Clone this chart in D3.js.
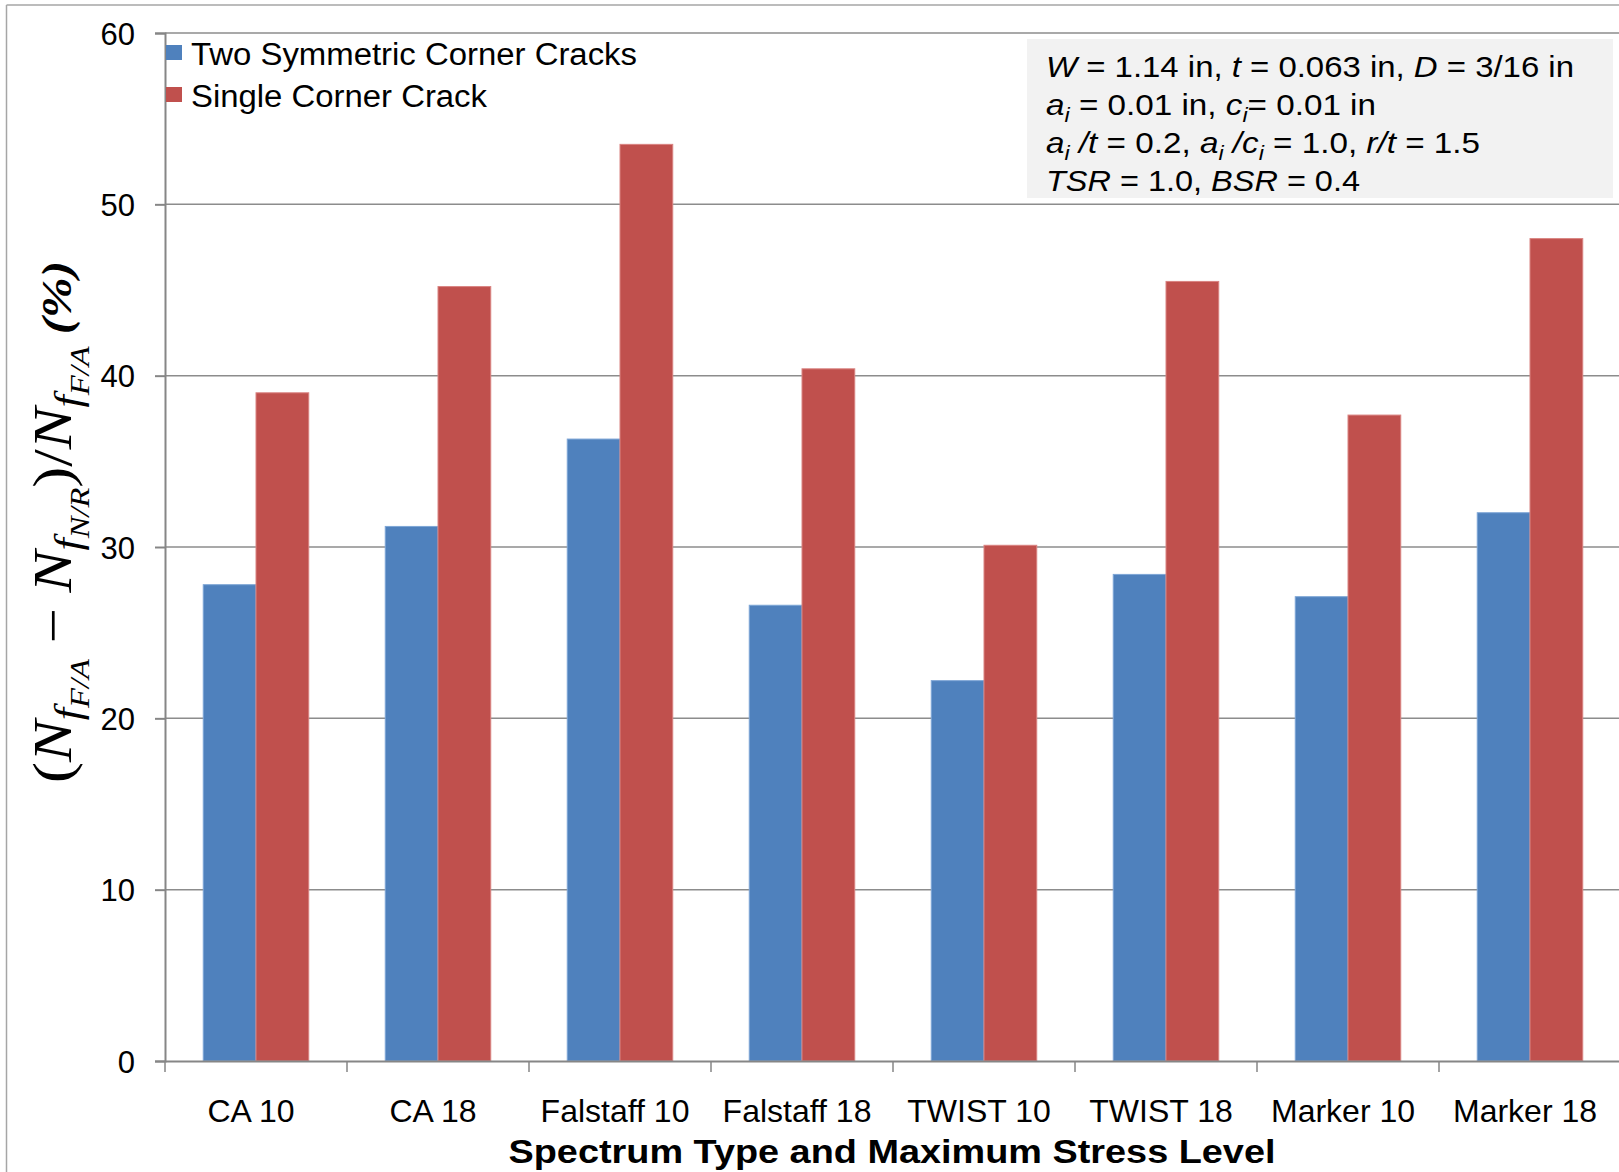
<!DOCTYPE html>
<html>
<head>
<meta charset="utf-8">
<script src="https://cdn.jsdelivr.net/npm/d3@7"></script>
<style>
  html, body { margin: 0; padding: 0; background: #fff; }
  svg { display: block; font-family: "Liberation Sans", Arial, sans-serif; }
</style>
</head>
<body>
<div id="chart"></div>
<script>
const categories = ["CA 10", "CA 18", "Falstaff 10", "Falstaff 18", "TWIST 10", "TWIST 18", "Marker 10", "Marker 18"];
const seriesNames = ["Two Symmetric Corner Cracks", "Single Corner Crack"];
const twoCornerCracks = [27.8, 31.2, 36.3, 26.6, 22.2, 28.4, 27.1, 32.0];
const singleCornerCrack = [39.0, 45.2, 53.5, 40.4, 30.1, 45.5, 37.7, 48.0];
const yTicks = [0, 10, 20, 30, 40, 50, 60];
const xTitle = "Spectrum Type and Maximum Stress Level";

// annotation box lines: [text, italic, subscript]
const noteLines = [
  [["W", 1], [" = 1.14 in, "], ["t", 1], [" = 0.063 in, "], ["D", 1], [" = 3/16 in"]],
  [["a", 1], ["i", 1, 1], [" = 0.01 in, "], ["c", 1], ["i", 1, 1], ["= 0.01 in"]],
  [["a", 1], ["i", 1, 1], [" /t", 1], [" = 0.2, "], ["a", 1], ["i", 1, 1], [" /c", 1], ["i", 1, 1], [" = 1.0, "], ["r/t", 1], [" = 1.5"]],
  [["TSR", 1], [" = 1.0, "], ["BSR", 1], [" = 0.4"]],
];

const colors = ["#4F81BD", "#C0504D"];
const strokes = ["#7ea6d6", "#d98381"];

const width = 1619, height = 1172;
const margin = { top: 33, left: 165, bottom: 111 };
const plotRight = 1621;

const svg = d3.select("#chart").append("svg")
  .attr("width", width)
  .attr("height", height)
  .attr("viewBox", [0, 0, width, height]);

const x = d3.scaleBand()
  .domain(categories)
  .range([margin.left, plotRight])
  .padding(0);
const xInner = d3.scaleBand()
  .domain(seriesNames)
  .range([0, x.bandwidth()])
  .paddingInner(0)
  .paddingOuter(0.725);
const y = d3.scaleLinear()
  .domain([0, 60])
  .range([height - margin.bottom, margin.top]);

// outer chart border (top / left)
svg.append("line").attr("x1", 6.5).attr("x2", width).attr("y1", 5).attr("y2", 5)
  .attr("stroke", "#a6a6a6").attr("stroke-width", 1.5);
svg.append("line").attr("x1", 6.5).attr("x2", 6.5).attr("y1", 5).attr("y2", height)
  .attr("stroke", "#a6a6a6").attr("stroke-width", 1.5);

// gridlines
svg.append("g")
  .selectAll("line")
  .data(yTicks.filter((d) => d > 0))
  .join("line")
  .attr("x1", margin.left)
  .attr("x2", width)
  .attr("y1", (d) => y(d))
  .attr("y2", (d) => y(d))
  .attr("stroke", "#8c8c8c")
  .attr("stroke-width", 1.5);

// y axis
svg.append("g")
  .attr("transform", `translate(${margin.left},0)`)
  .call(d3.axisLeft(y).tickValues(yTicks).tickSize(10).tickPadding(20))
  .call((g) => g.select(".domain").attr("stroke", "#868686").attr("stroke-width", 2))
  .call((g) => g.selectAll(".tick line").attr("stroke", "#868686").attr("stroke-width", 2))
  .call((g) => g.selectAll(".tick text")
    .attr("font-size", 31)
    .attr("font-family", "Liberation Sans, Arial, sans-serif")
    .attr("fill", "#000")
    .attr("dy", "0.36em"));

// bars
const cell = svg.append("g")
  .selectAll("g")
  .data(categories.map((c, i) => ({ c, values: [twoCornerCracks[i], singleCornerCrack[i]] })))
  .join("g")
  .attr("transform", (d) => `translate(${x(d.c)},0)`);
cell.selectAll("rect")
  .data((d) => d.values.map((v, j) => ({ s: seriesNames[j], v, j })))
  .join("rect")
  .attr("x", (d) => xInner(d.s))
  .attr("width", xInner.bandwidth())
  .attr("y", (d) => y(d.v))
  .attr("height", (d) => y(0) - y(d.v))
  .attr("fill", (d) => colors[d.j])
  .attr("stroke", (d) => strokes[d.j])
  .attr("stroke-width", 1);

// x axis
svg.append("g")
  .attr("transform", `translate(0,${y(0)})`)
  .call(d3.axisBottom(x).tickSize(0).tickPadding(0).tickSizeOuter(0))
  .call((g) => g.select(".domain").attr("stroke", "#868686").attr("stroke-width", 2))
  .call((g) => g.selectAll(".tick line").remove())
  .call((g) => g.selectAll(".tick text")
    .attr("font-size", 32)
    .attr("font-family", "Liberation Sans, Arial, sans-serif")
    .attr("fill", "#000")
    .attr("x", -5)
    .attr("y", 61)
    .attr("dy", null));
svg.append("g")
  .selectAll("line")
  .data(categories)
  .join("line")
  .attr("x1", (d) => x(d))
  .attr("x2", (d) => x(d))
  .attr("y1", y(0))
  .attr("y2", y(0) + 11)
  .attr("stroke", "#868686")
  .attr("stroke-width", 1.5);

// x title
svg.append("text")
  .attr("x", 892)
  .attr("y", 1163)
  .attr("text-anchor", "middle")
  .attr("font-size", 33)
  .attr("font-weight", "bold")
  .attr("textLength", 767)
  .attr("lengthAdjust", "spacingAndGlyphs")
  .text(xTitle);

// legend
const legend = svg.append("g").selectAll("g")
  .data(seriesNames)
  .join("g")
  .attr("transform", (d, i) => `translate(166,${45 + i * 42})`);
legend.append("rect")
  .attr("width", 16).attr("height", 15)
  .attr("fill", (d, i) => colors[i]);
legend.append("text")
  .attr("x", 25)
  .attr("y", 20)
  .attr("font-size", 31)
  .attr("textLength", (d, i) => [446, 296][i])
  .attr("lengthAdjust", "spacingAndGlyphs")
  .text((d) => d);

// annotation box
svg.append("rect")
  .attr("x", 1027).attr("y", 39)
  .attr("width", 586).attr("height", 159)
  .attr("fill", "#f2f2f2");
const noteLengths = [528, 330, 434, 314];
noteLines.forEach((segs, li) => {
  const t = svg.append("text")
    .attr("x", 1046)
    .attr("y", 77 + li * 38)
    .attr("font-size", 30)
    .attr("textLength", noteLengths[li])
    .attr("lengthAdjust", "spacingAndGlyphs");
  let shifted = false;
  segs.forEach(([txt, it, sub]) => {
    const ts = t.append("tspan").text(txt);
    if (it) ts.attr("font-style", "italic");
    if (sub && !shifted) { ts.attr("dy", 7).attr("font-size", 21); shifted = true; }
    else if (sub) ts.attr("font-size", 21);
    else if (shifted) { ts.attr("dy", -7); shifted = false; }
  });
});

// y axis label (rotated math expression)
const yLabel = svg.append("text")
  .attr("transform", "translate(71,522) rotate(-90)")
  .attr("text-anchor", "middle")
  .attr("font-family", "Liberation Serif, Times New Roman, serif")
  .attr("font-size", 54)
  .attr("textLength", 522)
  .attr("lengthAdjust", "spacingAndGlyphs");
const labelParts = [
  ["(", 0, 0], ["N", 1, 0], ["f", 1, 1], ["F/A", 1, 2], [" − ", 0, 0],
  ["N", 1, 0], ["f", 1, 1], ["N/R", 1, 2], [")", 0, 0], ["/", 0, 0],
  ["N", 1, 0], ["f", 1, 1], ["F/A", 1, 2], [" (%)", 0, 0, 1],
];
const levelSize = [54, 38, 28];
const levelShift = [0, 10, 18];
let level = 0;
labelParts.forEach(([txt, it, lv, bold]) => {
  const ts = yLabel.append("tspan").text(txt)
    .attr("font-size", bold ? 42 : levelSize[lv])
    .attr("dy", levelShift[lv] - levelShift[level]);
  if (it) ts.attr("font-style", "italic");
  if (bold) ts.attr("font-weight", "bold").attr("font-style", "italic");
  level = lv;
});
</script>
</body>
</html>
